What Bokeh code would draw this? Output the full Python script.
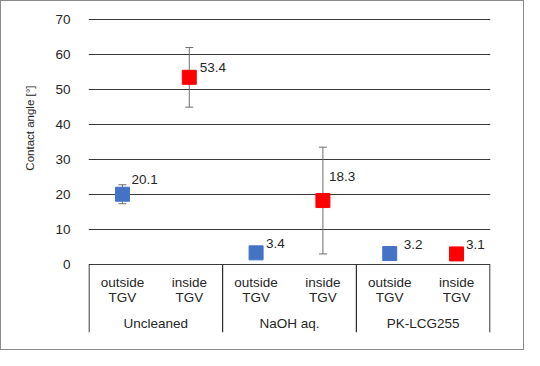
from bokeh.plotting import figure
from bokeh.layouts import column
from bokeh.models import (ColumnDataSource, Range1d, FixedTicker, Whisker,
                          TeeHead, Title)
from bokeh.core.properties import value
from bokeh.embed import file_html
from bokeh.resources import INLINE

# ---- data ----
groups = ["Uncleaned", "NaOH aq.", "PK-LCG255"]
sublabels = ["outside\nTGV", "inside\nTGV"]
outside_vals = [20.1, 3.4, 3.2]
inside_vals = [53.4, 18.3, 3.1]
outside_err = [2.7, 0.0, 0.0]
inside_err = [8.5, 15.2, 0.0]
y_ticks = [0, 10, 20, 30, 40, 50, 60, 70]

# ---- style ----
FONT = "Liberation Sans"
BLUE = "#4472C4"
RED = "#FF0000"
TEXT = "#262626"
GRID = "#3a3a3a"
ERR = "#6e6e6e"

W, H = 522, 348
Y_MIN = -19.28
p = figure(width=W, height=H, output_backend="svg", toolbar_location=None,
           x_range=Range1d(-0.004, 3.004), y_range=Range1d(Y_MIN, 70.15),
           x_axis_location=None, min_border_left=87, min_border_right=33,
           min_border_top=17, min_border_bottom=17)
p.outline_line_color = None
p.xgrid.visible = False
p.ygrid.ticker = FixedTicker(ticks=y_ticks)
p.ygrid.grid_line_color = GRID
p.ygrid.grid_line_width = 1

ax = p.yaxis[0]
ax.ticker = FixedTicker(ticks=y_ticks)
ax.axis_line_color = None
ax.major_tick_line_color = None
ax.minor_tick_line_color = None
ax.major_label_text_font = FONT
ax.major_label_text_font_size = "13.5px"
ax.major_label_text_color = TEXT
ax.major_label_standoff = 12

# y axis title (side panel title, anchored from the top)
p.add_layout(Title(text="Contact angle [°]", align="right", offset=67,
                   text_font=FONT, text_font_size="11.5px", text_color=TEXT,
                   text_font_style="normal", standoff=34), "left")

# positions
n = len(groups)
x_out = [i + 0.25 for i in range(n)]
x_in = [i + 0.75 for i in range(n)]

# category box separators
p.segment(x0=list(range(n + 1)), y0=[0] * (n + 1), x1=list(range(n + 1)),
          y1=[Y_MIN] * (n + 1), line_color="#000000", line_width=1)

# sub labels (two-line, block centred)
sub_x = x_out + x_in
sub_t = [sublabels[0]] * n + [sublabels[1]] * n
p.text(x=sub_x, y=[-7.05] * (2 * n), text=sub_t, text_font=value(FONT),
       text_font_size="13.5px", text_align="center", text_baseline="middle",
       text_color=TEXT, text_line_height=1.0)
# group labels
p.text(x=[i + 0.5 for i in range(n)], y=[-16.7] * n, text=groups,
       text_font=value(FONT), text_font_size="13.5px", text_align="center",
       text_baseline="middle", text_color=TEXT)

# error bars
def add_err(xs, vals, errs):
    xx = [x for x, e in zip(xs, errs) if e > 0]
    lo = [v - e for v, e in zip(vals, errs) if e > 0]
    hi = [v + e for v, e in zip(vals, errs) if e > 0]
    src = ColumnDataSource(dict(x=xx, lower=lo, upper=hi))
    w = Whisker(base="x", lower="lower", upper="upper", source=src,
                line_color=ERR, line_width=1,
                upper_head=TeeHead(size=8, line_color=ERR, line_width=1),
                lower_head=TeeHead(size=8, line_color=ERR, line_width=1))
    p.add_layout(w)

add_err(x_out, outside_vals, outside_err)
add_err(x_in, inside_vals, inside_err)

p.scatter(x=x_out, y=outside_vals, marker="square", size=14, fill_color=BLUE,
          line_color=BLUE)
p.scatter(x=x_in, y=inside_vals, marker="square", size=14, fill_color=RED,
          line_color=RED)

# data labels
lab_x = x_out + x_in
lab_y = outside_vals + inside_vals
lab_t = ["%.1f" % v for v in lab_y]
lab_dx = [9, 10, 14, 10.5, 6, 9.5]
lab_dy = [-15, -9, -9, -10, -24, -9]
src = ColumnDataSource(dict(x=lab_x, y=lab_y, t=lab_t, dx=lab_dx, dy=lab_dy))
p.text(x="x", y="y", text="t", x_offset="dx", y_offset="dy", source=src,
       text_font=value(FONT), text_font_size="13.5px", text_align="left",
       text_baseline="middle", text_color=TEXT)

layout = column(p, styles={"border": "1px solid #8a8a8a"})
open("out.html", "w").write(file_html(layout, INLINE))
